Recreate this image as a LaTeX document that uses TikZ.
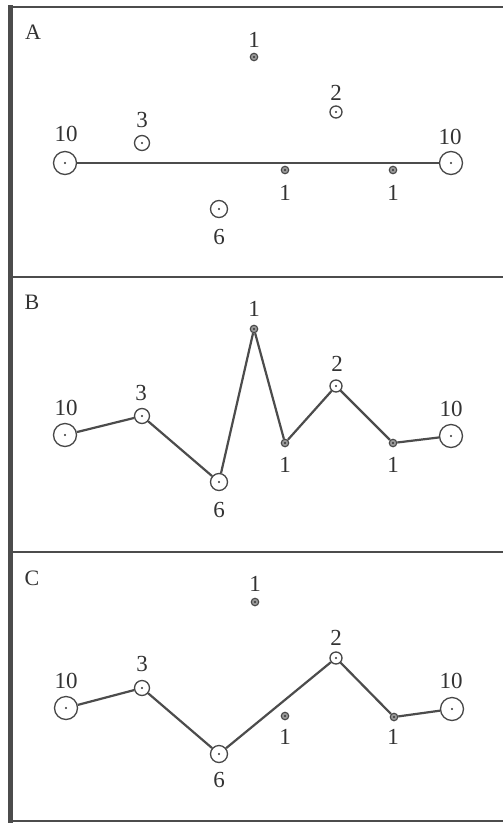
\documentclass[tikz,border=0pt]{standalone}
\usepackage{fontspec}
\setmainfont{Liberation Serif}
\begin{document}
\begin{tikzpicture}[x=1pt,y=-1pt,
  pt/.style={circle,inner sep=0pt,draw=black!72,line width=1.3pt,fill=white,
    path picture={\fill[black!80] (path picture bounding box.center) circle (1.2pt);}},
  big/.style={pt,minimum size=23pt},
  six/.style={pt,minimum size=17pt},
  three/.style={pt,minimum size=15pt},
  two/.style={pt,minimum size=12pt},
  one/.style={pt,minimum size=7.5pt,line width=1.1pt,fill=black!40},
  lbl/.style={text=black!80,font=\fontsize{23}{25}\selectfont,inner sep=0pt},
  plbl/.style={text=black!80,font=\fontsize{22}{24}\selectfont,inner sep=0pt},
  conn/.style={draw=black!70,line width=2.2pt},
  rule/.style={draw=black!70,line width=2.4pt}]
\useasboundingbox (0,0) rectangle (503,823);
\fill[white!97!black!3] (0,0) rectangle (503,823);
% frame
\draw[rule] (10,7) -- (503,7);
\draw[rule] (10,277) -- (503,277);
\draw[rule] (10,552) -- (503,552);
\draw[rule] (10,821) -- (503,821);
\draw[black!70,line width=5pt] (10,5) -- (10,823);

% ---------- Panel A ----------
\node[plbl] (A) at (33,32) {A};
\node[big] (a10l) at (65,163) {};
\node[big] (a10r) at (451,163) {};
\node[three] (a3) at (142,143) {};
\node[one] (a1t) at (254,57) {};
\node[two] (a2) at (336,112) {};
\node[one] (a1m) at (285,170) {};
\node[one] (a1r) at (393,170) {};
\node[six] (a6) at (219,209) {};
\draw[conn] (a10l) -- (a10r);
\node[lbl] (la10l) at (66,134) {10};
\node[lbl] (la10r) at (450,137) {10};
\node[lbl] (la3) at (142,120) {3};
\node[lbl] (la1t) at (254,40) {1};
\node[lbl] (la2) at (336,93) {2};
\node[lbl] (la1m) at (285,193) {1};
\node[lbl] (la1r) at (393,193) {1};
\node[lbl] (la6) at (219,237) {6};

% ---------- Panel B ----------
\node[plbl] (B) at (32,302) {B};
\node[big] (b10l) at (65,435) {};
\node[three] (b3) at (142,416) {};
\node[six] (b6) at (219,482) {};
\node[one] (b1t) at (254,329) {};
\node[one] (b1m) at (285,443) {};
\node[two] (b2) at (336,386) {};
\node[one] (b1r) at (393,443) {};
\node[big] (b10r) at (451,436) {};
\draw[conn,line join=round] (b10l) -- (b3) -- (b6) -- (b1t) -- (b1m) -- (b2) -- (b1r) -- (b10r);
\node[lbl] (lb10l) at (66,408) {10};
\node[lbl] (lb3) at (141,393) {3};
\node[lbl] (lb1t) at (254,309) {1};
\node[lbl] (lb2) at (337,364) {2};
\node[lbl] (lb1m) at (285,465) {1};
\node[lbl] (lb1r) at (393,465) {1};
\node[lbl] (lb10r) at (451,409) {10};
\node[lbl] (lb6) at (219,510) {6};

% ---------- Panel C ----------
\node[plbl] (C) at (32,578) {C};
\node[big] (c10l) at (66,708) {};
\node[three] (c3) at (142,688) {};
\node[six] (c6) at (219,754) {};
\node[one] (c1t) at (255,602) {};
\node[one] (c1m) at (285,716) {};
\node[two] (c2) at (336,658) {};
\node[one] (c1r) at (394,717) {};
\node[big] (c10r) at (452,709) {};
\draw[conn,line join=round] (c10l) -- (c3) -- (c6) -- (c2) -- (c1r) -- (c10r);
\node[lbl] (lc10l) at (66,681) {10};
\node[lbl] (lc3) at (142,664) {3};
\node[lbl] (lc1t) at (255,584) {1};
\node[lbl] (lc2) at (336,638) {2};
\node[lbl] (lc1m) at (285,737) {1};
\node[lbl] (lc1r) at (393,737) {1};
\node[lbl] (lc10r) at (451,681) {10};
\node[lbl] (lc6) at (219,780) {6};
\end{tikzpicture}
\end{document}
